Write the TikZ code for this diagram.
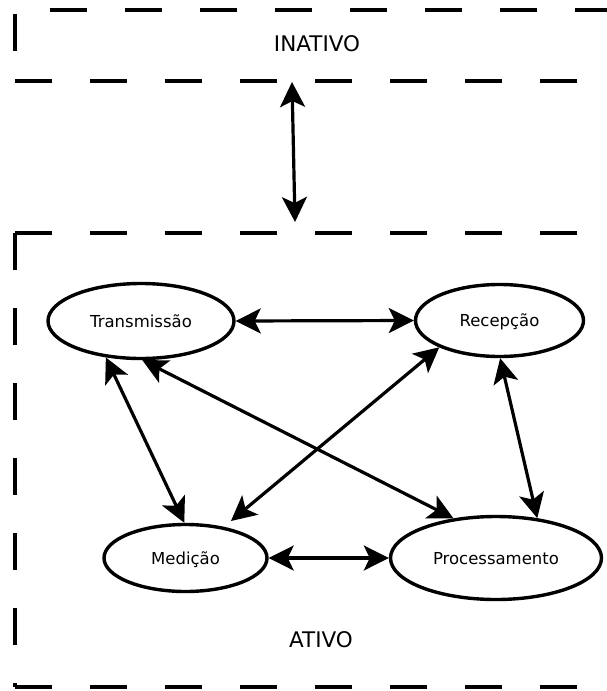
\documentclass[tikz,border=0pt]{standalone}
\usepackage{fontspec}
\setmainfont{DejaVu Sans}
\usetikzlibrary{shapes.geometric,arrows.meta}

\begin{document}
\begin{tikzpicture}[x=1pt,y=-1pt,
  state/.style={ellipse,draw,line width=3.4pt,inner sep=0pt,
    text height=12pt,text depth=0pt,
    font=\fontsize{16.5}{19}\selectfont},
  link/.style={line width=3.2pt,
    {Stealth[length=25pt,width=25pt,inset=6pt]}-{Stealth[length=25pt,width=25pt,inset=6pt]}},
  frame/.style={line width=3.2pt,dash pattern=on 37pt off 38pt},
  region/.style={rectangle,inner sep=0pt,outer sep=0pt,anchor=north west},
  title/.style={font=\fontsize{21.5}{24}\selectfont}]
\useasboundingbox (0,0) rectangle (607,691);
\clip (0,0) rectangle (607,691);
\fill[white] (0,0) rectangle (607,691);

% the two operating regions
\node[region, minimum width=625pt, minimum height=71pt] (inativo) at (15,10) {};
\node[region, minimum width=625pt, minimum height=454pt] (ativo) at (15,233) {};

\draw[frame, dash phase=40pt] (inativo.north west) -- (inativo.north east);
\draw[frame, dash phase=71pt] (inativo.north west) -- (inativo.south west);
\draw[frame] (inativo.south west) -- (inativo.south east);
\draw[frame] (ativo.north west) -- (ativo.north east);
\draw[frame] (ativo.north west) -- (ativo.south west);
\draw[frame] (ativo.south west) -- (ativo.south east);

\node[title] (lblInativo) at (317,44) {INATIVO};
\node[title] (lblAtivo) at (321,640) {ATIVO};

% transition between the regions
\coordinate (inTip) at (292,82);
\coordinate (outTip) at (295,222);
\draw[link] (inTip) -- (outTip);

% states of the active mode
\node[state, minimum width=186pt, minimum height=75pt] (T) at (141,321) {Transmissão};
\node[state, minimum width=168pt, minimum height=72pt] (R) at (499.5,320.5) {Recepção};
\node[state, minimum width=163pt, minimum height=67pt] (M) at (185.5,558) {Medição};
\node[state, minimum width=211pt, minimum height=83pt] (P) at (496,558) {Processamento};

\draw[link] (T.0) -- (R.180);
\draw[link] (M.0) -- (P.180);
\draw[link] (T.226) -- (M.92);
\draw[link] (T.272) -- (P.137);
\draw[link, shorten >=9pt] (R.204) -- (M.39);
\draw[link] (R.271) -- (P.44);
\end{tikzpicture}
\end{document}
